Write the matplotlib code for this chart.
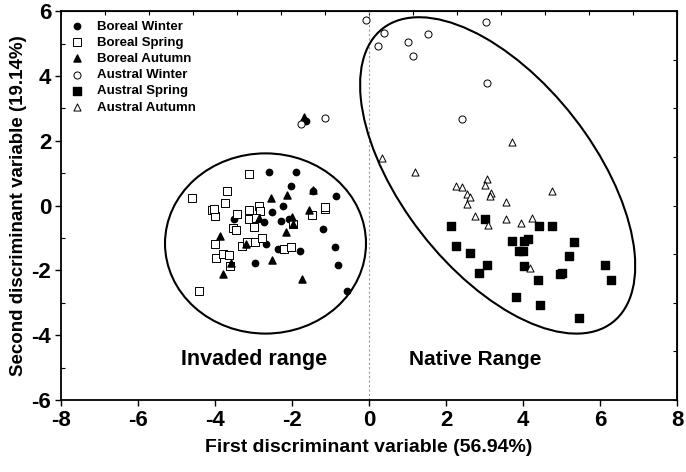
import numpy as np
import matplotlib
matplotlib.use('Agg')
import matplotlib.pyplot as plt
from matplotlib.patches import Ellipse

plt.rcParams['axes.unicode_minus'] = False

# ---- data ----
# Boreal Winter (filled circles)
bw_x = [-2.61, -1.91, -2.04, -1.45, -0.85, -2.24, -2.51, -3.51, -2.72, -2.30, -2.07, -1.20,
        -2.67, -2.36, -1.80, -0.88, -2.96, -0.81, -0.57, -1.63]
bw_y = [1.04, 1.02, 0.59, 0.46, 0.28, -0.01, -0.19, -0.43, -0.51, -0.48, -0.43, -0.72,
        -1.18, -1.35, -1.39, -1.29, -1.77, -1.82, -2.64, 2.62]
# Boreal Spring (open squares)
bs_x = [-3.13, -4.59, -3.70, -3.74, -4.07, -4.00, -3.42, -3.12, -2.87, -2.82, -3.12, -2.94,
        -2.99, -3.54, -3.46, -1.97, -1.48, -1.15, -1.14, -4.00, -3.30, -3.17, -2.95, -2.77,
        -2.21, -2.03, -3.98, -3.79, -3.63, -3.61, -4.42, -4.04]
bs_y = [0.96, 0.23, 0.45, 0.08, -0.13, -0.31, -0.26, -0.13, 0.00, -0.18, -0.41, -0.38,
        -0.67, -0.68, -0.74, -0.57, -0.29, -0.11, -0.05, -1.18, -1.24, -1.11, -1.13, -1.00,
        -1.33, -1.27, -1.61, -1.48, -1.54, -1.85, -2.64, -0.12]
# Boreal Autumn (filled triangles)
ba_x = [-2.55, -2.13, -1.45, -1.55, -2.87, -2.01, -1.97, -2.17, -3.87, -3.20, -3.59, -2.51,
        -3.79, -1.75, -1.68]
ba_y = [0.22, 0.32, 0.48, -0.13, -0.39, -0.34, -0.57, -0.82, -0.93, -1.19, -1.76, -1.69,
        -2.12, -2.26, 2.72]
# Austral Winter (open circles)
aw_x = [-0.07, 0.38, 0.23, 1.02, 1.52, 1.15, 3.04, 3.06, 2.41, -1.76, -1.14]
aw_y = [5.71, 5.31, 4.93, 5.05, 5.28, 4.62, 5.67, 3.79, 2.66, 2.53, 2.71]
# Austral Spring (filled squares)
as_x = [2.12, 3.00, 4.42, 4.74, 2.26, 2.62, 3.71, 4.03, 4.14, 3.90, 3.99, 5.32, 5.18, 3.07,
        2.86, 4.03, 4.40, 4.96, 5.02, 6.13, 6.29, 3.81, 4.43, 5.45]
as_y = [-0.62, -0.43, -0.63, -0.62, -1.26, -1.46, -1.10, -1.10, -1.02, -1.41, -1.41, -1.13,
        -1.56, -1.82, -2.08, -1.87, -2.30, -2.11, -2.08, -1.84, -2.29, -2.82, -3.08, -3.47]
# Austral Autumn (open triangles)
aa_x = [0.34, 1.18, 3.72, 2.26, 2.41, 3.06, 3.00, 3.17, 3.15, 2.55, 2.62, 2.54, 3.55, 4.74,
        2.74, 3.55, 3.10, 3.94, 4.22, 4.18]
aa_y = [1.47, 1.04, 1.95, 0.61, 0.57, 0.81, 0.64, 0.39, 0.30, 0.35, 0.26, 0.05, 0.11, 0.46,
        -0.31, -0.40, -0.60, -0.53, -0.38, -1.92]

xlabel = 'First discriminant variable (56.94%)'
ylabel = 'Second discriminant variable (19.14%)'

plt.rcParams['font.family'] = ['Liberation Sans', 'DejaVu Sans']

fig = plt.figure(figsize=(6.86, 4.72), dpi=100)
ax = fig.add_axes([0.089, 0.1525, 0.898, 0.824])

# dotted line at x = 0
ax.axvline(0, color='#999999', lw=0.8, ls=(0, (2, 2)), zorder=1)

ms = 26
ax.scatter(bw_x, bw_y, marker='o', s=ms * 0.8, c='black', label='Boreal Winter', zorder=3)
ax.scatter(bs_x, bs_y, marker='s', s=ms, facecolors='white', edgecolors='black',
           linewidths=0.7, label='Boreal Spring', zorder=3)
ax.scatter(ba_x, ba_y, marker='^', s=ms, c='black', label='Boreal Autumn', zorder=3)
ax.scatter(aw_x, aw_y, marker='o', s=ms, facecolors='white', edgecolors='black',
           linewidths=0.7, label='Austral Winter', zorder=3)
ax.scatter(as_x, as_y, marker='s', s=ms, c='black', label='Austral Spring', zorder=3)
ax.scatter(aa_x, aa_y, marker='^', s=ms, facecolors='white', edgecolors='black',
           linewidths=0.7, label='Austral Autumn', zorder=3)

# range ellipses
ax.add_patch(Ellipse((-2.69, -1.17), 5.22, 5.56, fill=False, lw=1.5, ec='black', zorder=2))
ax.add_patch(Ellipse((3.34, 0.93), 10.9, 5.25, angle=-59.5, fill=False, lw=1.5,
                     ec='black', zorder=2))

ax.text(-3.0, -4.75, 'Invaded range', fontsize=15.5, fontweight='bold',
        ha='center', va='center')
ax.text(2.75, -4.75, 'Native Range', fontsize=15, fontweight='bold',
        ha='center', va='center')

ax.set_xlim(-8, 8)
ax.set_ylim(-6, 6)
ax.set_xticks(np.arange(-8, 9, 2))
ax.set_yticks(np.arange(-6, 7, 2))
ax.set_yticks(np.arange(-5, 6, 2), minor=True)
ax.tick_params(axis='both', which='major', direction='out', length=4, width=1,
               labelsize=16, pad=3)
ax.tick_params(axis='y', which='minor', direction='in', length=3, width=0.8)
for lab in ax.get_xticklabels() + ax.get_yticklabels():
    lab.set_fontweight('bold')

# small ticks along the top and right frame
top = ax.secondary_xaxis('top')
top.set_xticks(np.linspace(-8, 8, 15), labels=[])
top.tick_params(direction='in', length=3, width=0.8)
right = ax.secondary_yaxis('right')
right.set_yticks(np.linspace(-6, 6, 9), labels=[])
right.tick_params(direction='in', length=3, width=0.8)

ax.set_xlabel(xlabel, fontsize=14, fontweight='bold', labelpad=6)
ax.set_ylabel(ylabel, fontsize=13.5, fontweight='bold', labelpad=3)

for sp in ax.spines.values():
    sp.set_linewidth(1.3)

ax.legend(loc='upper left', frameon=False, handletextpad=1.0,
          labelspacing=0.3, borderaxespad=0.3, handlelength=1.0,
          prop={'weight': 'bold', 'size': 9.5})

fig.savefig('out.png', dpi=100)
